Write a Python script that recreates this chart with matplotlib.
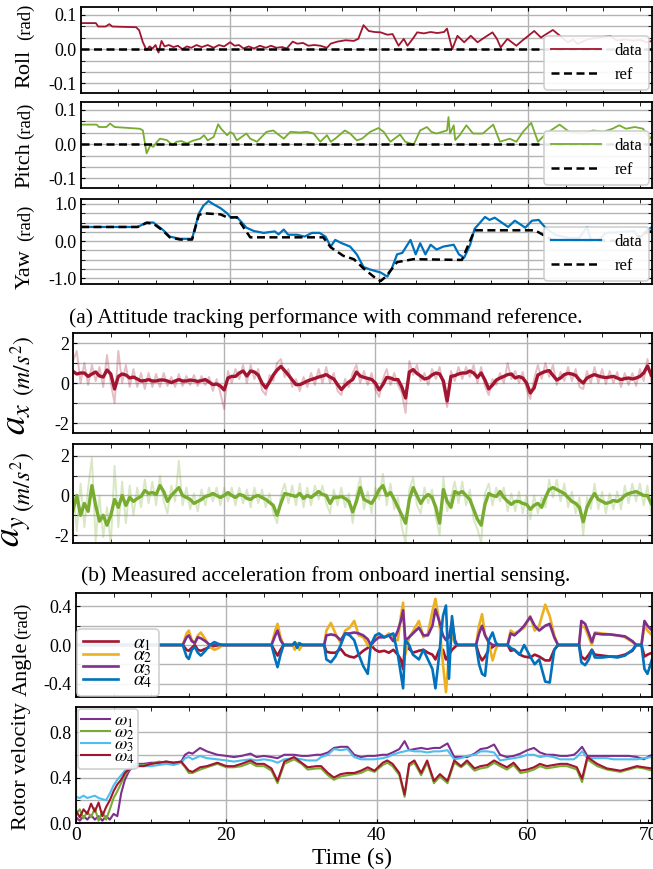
import numpy as np
import matplotlib
matplotlib.use("Agg")
import matplotlib.pyplot as plt
from matplotlib.ticker import MultipleLocator, FixedLocator

plt.rcParams['font.family'] = ['Liberation Serif', 'DejaVu Serif']
plt.rcParams['mathtext.fontset'] = 'stix'

# colours (matlab-ish)
RED = '#A2142F'
GREEN = '#77AC30'
BLUE = '#0072BD'
ORANGE = '#EDB120'
PURPLE = '#7E2F8E'
CYAN = '#4DBEEE'

XMAX = 76.6

# ---------------- attitude ----------------
T_ROLL = [0, 2.0, 2.3, 3.3, 3.8, 4.2, 7.4, 7.8, 8.3, 8.8,
          9.2, 9.6, 10.0, 10.4, 10.8, 11.2, 11.8, 12.4, 13.0, 13.6,
          14.2, 14.8, 15.5, 16.2, 17.0, 17.8, 18.5, 19.2, 20.0, 20.6,
          21.2, 21.8, 22.5, 23.2, 24.0, 24.8, 25.5, 26.2, 27.0, 27.6,
          28.4, 29.0, 29.8, 30.5, 31.3, 32.1, 33.0, 33.5, 34.4, 35.5,
          36.6, 37.2, 37.9, 38.6, 39.4, 40.2, 41.1, 41.8, 42.6, 43.3,
          43.8, 44.5, 45.1, 46.0, 46.9, 47.8, 48.7, 49.1, 49.8, 50.5,
          51.4, 52.3, 53.2, 54.2, 55.2, 55.8, 56.3, 57.2, 58.4, 59.2,
          59.9, 60.8, 61.7, 62.5, 63.3, 64.2, 65.3, 66.0, 66.6, 68.0,
          69.5, 71.0, 71.9, 73.0, 74.1, 75.0, 75.9, 76.6]
ROLL = [0.076, 0.076, 0.066, 0.066, 0.073, 0.066, 0.064, 0.055, 0.02, -0.003,
        0.008, 0.002, 0.012, -0.01, 0.024, 0.008, 0.012, 0.006, 0.01, 0.0,
        0.008, 0.004, 0.012, 0.006, 0.012, 0.004, 0.012, 0.008, 0.02, 0.01,
        0.012, 0.002, 0.008, 0.002, 0.01, 0.004, 0.01, 0.004, 0.006, 0.002,
        0.022, 0.016, 0.018, 0.01, 0.012, 0.01, 0.004, 0.016, 0.022, 0.026,
        0.024, 0.03, 0.07, 0.053, 0.05, 0.049, 0.042, 0.044, 0.01, 0.03,
        0.01, 0.03, 0.049, 0.046, 0.05, 0.047, 0.05, 0.06, 0.0, 0.039,
        0.02, 0.039, 0.02, 0.035, 0.049, 0.03, 0.005, 0.03, 0.01, 0.025,
        0.037, 0.053, 0.034, 0.045, 0.056, 0.04, 0.02, 0.028, 0.015, 0.029,
        0.034, 0.039, 0.025, 0.028, 0.025, 0.027, 0.02, 0.024]

T_PITCH = [0, 2.1, 2.4, 3.4, 3.9, 4.5, 7.9, 8.3, 8.8, 9.3,
           9.7, 10.2, 10.6, 11.5, 12.3, 12.8, 13.5, 14.2, 15.0, 16.0,
           16.5, 17.0, 17.8, 18.4, 18.8, 19.6, 20.0, 20.4, 20.9, 22.2,
           22.7, 23.6, 24.9, 25.8, 26.3, 27.2, 28.1, 29.4, 30.3, 31.2,
           32.1, 33.0, 33.5, 34.1, 35.4, 36.1, 37.0, 37.7, 38.8, 39.9,
           40.6, 41.5, 42.8, 43.5, 44.2, 44.6, 45.5, 46.4, 47.0, 47.7,
           49.1, 49.3, 49.5, 50.0, 50.2, 50.8, 51.7, 52.6, 53.9, 55.3,
           56.2, 57.5, 58.4, 59.3, 60.4, 61.3, 62.4, 64.2, 65.5, 67.3,
           68.7, 70.0, 71.3, 72.2, 73.1, 74.3, 75.4, 76.3, 76.6]
PITCH = [0.057, 0.057, 0.05, 0.05, 0.06, 0.05, 0.045, 0.04, -0.027, -0.003,
         -0.008, 0.007, 0.016, 0.012, -0.003, 0.007, 0.009, 0.002, 0.01, 0.016,
         0.026, 0.011, 0.021, 0.058, 0.045, 0.026, 0.035, 0.031, 0.011, 0.031,
         0.016, 0.007, 0.036, 0.04, 0.031, 0.016, 0.036, 0.034, 0.036, 0.031,
         0.007, 0.026, 0.007, 0.016, 0.04, 0.031, 0.011, 0.016, 0.036, 0.047,
         0.036, 0.007, 0.028, 0.007, 0.002, -0.003, 0.04, 0.05, 0.036, 0.031,
         0.04, 0.079, 0.031, 0.055, 0.012, 0.026, 0.055, 0.031, 0.031, 0.057,
         0.007, 0.016, 0.007, 0.036, 0.062, 0.007, 0.031, 0.057, 0.036, 0.031,
         0.04, 0.036, 0.045, 0.055, 0.045, 0.05, 0.045, 0.016, 0.024]

REF_ZERO = 0.0

T_YAW = [0, 7.6, 8.8, 9.7, 11.0, 11.9, 13.3, 14.9, 15.8, 16.4,
         17.1, 17.8, 18.7, 19.6, 20.1, 20.9, 22.2, 23.2, 24.5, 26.0,
         26.5, 27.2, 27.8, 29.0, 30.0, 31.0, 32.0, 32.8, 33.5, 34.1,
         35.0, 36.1, 37.0, 37.9, 38.8, 40.2, 41.1, 41.7, 42.4, 43.1,
         44.2, 44.9, 45.5, 46.2, 46.9, 47.7, 48.6, 50.0, 50.7, 51.4,
         52.2, 52.8, 54.2, 54.8, 55.5, 57.3, 58.2, 59.6, 60.5, 61.4,
         62.3, 63.6, 65.4, 66.8, 67.9, 68.4, 69.5, 70.4, 72.6, 74.2,
         74.9, 75.8, 76.6]
YAW = [0.38, 0.38, 0.50, 0.50, 0.30, 0.12, 0.06, 0.06, 0.74, 0.95,
       1.08, 0.99, 0.89, 0.75, 0.63, 0.65, 0.36, 0.27, 0.22, 0.26,
       0.18, 0.31, 0.17, 0.17, 0.12, 0.22, 0.22, 0.12, -0.15, 0.03,
       -0.06, -0.15, -0.36, -0.70, -0.77, -0.85, -0.96, -0.74, -0.36, -0.32,
       0.03, -0.36, -0.06, -0.36, -0.10, -0.23, -0.15, -0.10, -0.36, -0.45,
       -0.10, 0.33, 0.65, 0.57, 0.63, 0.38, 0.55, 0.36, 0.55, 0.57,
       0.36, 0.17, 0.08, 0.08, 0.38, 0.03, 0.03, 0.22, 0.24, 0.27,
       0.06, 0.27, 0.38]

T_YAW_REF = [0, 7.6, 8.8, 9.7, 11.0, 11.9, 13.3, 14.9, 15.8, 16.4,
             18.7, 19.6, 20.9, 22.7, 32.5, 33.5, 35.2, 36.6, 37.9, 39.5,
             40.2, 40.9, 42.4, 44.6, 51.1, 52.8, 60.9, 63.2, 74.4, 75.0,
             76.6]
YAW_REF = [0.38, 0.38, 0.49, 0.47, 0.28, 0.10, 0.04, 0.04, 0.70, 0.75,
           0.72, 0.64, 0.64, 0.10, 0.10, -0.17, -0.40, -0.49, -0.74, -1.0,
           -1.08, -0.96, -0.57, -0.49, -0.51, 0.29, 0.29, 0.03, 0.0, 0.17,
           0.27]

# ---------------- acceleration (0.5 s samples) ----------------
T_ACC = np.arange(0, 77, 0.5)
ACC_X = [0.58, 0.45, 0.50, 0.50, 0.33, 0.45, 0.55, 0.35, 0.30, 0.65,
         0.45, -0.30, 0.33, 0.45, 0.40, 0.25, 0.30, 0.20, 0.10, 0.12,
         0.17, 0.10, 0.10, 0.15, 0.15, 0.10, 0.02, 0.10, 0.17, 0.10,
         0.10, 0.15, 0.12, 0.08, 0.12, 0.17, 0.05, -0.08, -0.05, -0.15,
         -0.35, 0.25, 0.33, 0.33, 0.50, 0.60, 0.35, 0.60, 0.55, 0.40,
         0.00, -0.25, 0.05, 0.40, 0.65, 0.83, 0.62, 0.40, 0.15, -0.08,
         -0.08, 0.00, 0.10, 0.17, 0.23, 0.30, 0.35, 0.42, 0.30, 0.20,
         -0.08, -0.33, -0.12, 0.05, 0.17, 0.55, 0.35, 0.28, 0.23, 0.18,
         0.00, -0.35, -0.08, 0.28, 0.25, 0.17, 0.17, -0.20, -0.75, 0.55,
         0.67, 0.48, 0.35, 0.20, 0.25, 0.40, 0.50, 0.45, 0.10, -0.90,
         0.33, 0.37, 0.45, 0.50, 0.50, 0.60, 0.50, 0.28, 0.50, 0.15,
         -0.30, -0.10, 0.15, 0.25, 0.33, 0.42, 0.45, 0.25, 0.32, 0.25,
         0.00, -0.50, -0.25, 0.40, 0.50, 0.58, 0.62, 0.38, 0.15, 0.25,
         0.42, 0.48, 0.45, 0.38, 0.15, 0.00, 0.25, 0.35, 0.42, 0.35,
         0.30, 0.27, 0.30, 0.33, 0.25, 0.17, 0.22, 0.25, 0.20, 0.25,
         0.33, 0.50, 0.85, 0.40]
ACC_X_RAW = [1.10, 1.60, 0.00, 1.00, -0.10, 0.90, 0.10, 0.80, -0.20, 1.40,
             0.00, -1.00, 1.60, 0.00, 0.90, -0.20, 0.70, -0.20, 0.50, -0.30,
             0.50, -0.20, 0.45, -0.20, 0.50, -0.15, 0.30, -0.20, 0.45, -0.15,
             0.35, -0.10, 0.40, -0.15, 0.35, -0.10, 0.30, -0.40, 0.20, -0.50,
             -1.30, 0.60, 0.00, 0.70, 0.20, 0.90, 0.00, 0.90, 0.20, 0.70,
             -0.35, -0.60, 0.40, 0.10, 1.00, 1.20, 0.30, 0.70, -0.20, 0.20,
             -0.40, 0.30, -0.20, 0.50, -0.10, 0.70, 0.00, 0.80, 0.00, 0.50,
             -0.40, -0.60, 0.20, -0.20, 0.50, 0.90, 0.00, 0.60, -0.10, 0.50,
             -0.30, -0.70, 0.20, 0.70, -0.10, 0.50, -0.10, -0.50, -1.50, 1.10,
             0.40, 0.90, 0.10, 0.50, -0.10, 0.70, 0.20, 0.80, -0.20, -1.20,
             0.60, 0.10, 0.80, 0.20, 0.80, 0.30, 0.90, 0.00, 0.80, -0.15,
             -0.60, 0.20, -0.10, 0.50, 0.00, 1.00, 0.20, 0.60, 0.00, 0.55,
             -0.30, -0.80, 0.20, 0.90, 0.20, 1.00, 0.30, 0.90, -0.10, 0.55,
             0.10, 0.80, 0.10, 0.70, -0.20, -0.30, 0.60, 0.00, 0.80, 0.00,
             0.70, -0.05, 0.60, 0.00, 0.55, -0.20, 0.50, -0.10, 0.50, -0.15,
             0.70, 0.10, 1.20, 0.10]
ACC_Y = [-0.75, 0.00, -1.00, -0.40, -0.80, 0.50, -0.50, -1.30, -1.00, -1.50,
         -1.00, -0.20, -0.60, 0.00, -0.50, -0.10, -0.30, -0.15, -0.05, 0.25,
         0.10, 0.15, 0.05, 0.50, 0.20, -0.30, 0.00, 0.20, 0.40, 0.00,
         -0.10, -0.20, -0.40, -0.30, -0.20, -0.05, 0.00, 0.10, 0.00, -0.10,
         0.00, 0.15, 0.00, -0.10, 0.05, 0.00, -0.15, -0.20, -0.05, 0.00,
         -0.10, -0.20, -0.35, -0.50, -1.00, -0.40, 0.10, 0.05, 0.00, -0.05,
         0.10, -0.15, 0.00, -0.10, 0.05, 0.20, 0.05, 0.00, -0.40, -0.10,
         -0.10, -0.05, -0.15, -0.30, -0.83, -0.30, 0.40, -0.20, -0.30, -0.40,
         -0.10, 0.30, 0.50, 0.00, 0.15, -0.20, -0.60, -1.00, -1.40, -0.20,
         0.40, 0.00, -0.40, -0.10, 0.05, -0.10, -0.60, -1.40, 0.30, -0.30,
         -0.60, 0.20, 0.10, 0.20, 0.00, -0.20, -0.70, -1.20, -1.50, -0.45,
         0.10, 0.00, -0.05, 0.20, -0.10, -0.30, -0.45, -0.30, -0.30, -0.40,
         -0.45, -0.70, -0.50, -0.40, -0.60, -0.10, 0.30, 0.40, 0.30, 0.20,
         0.10, -0.10, -0.30, -0.40, -0.60, -1.33, -0.60, -0.20, 0.10, -0.20,
         -0.30, -0.40, -0.35, -0.25, -0.30, -0.20, 0.00, 0.10, 0.15, 0.20,
         0.10, 0.00, 0.00, -0.40]
ACC_Y_RAW = [0.20, -1.80, 0.60, -1.60, 0.40, 1.90, -2.30, 0.00, -2.10, -0.60,
             -2.50, 1.50, -1.60, 0.70, -1.40, 0.50, -1.00, 0.40, -0.60, 0.80,
             -0.40, 0.70, -0.50, 1.00, -0.30, -0.90, 0.50, -0.30, 1.75, -0.50,
             0.40, -0.70, 0.10, -0.80, 0.30, -0.50, 0.40, -0.30, 0.40, -0.50,
             0.40, -0.30, 0.40, -0.50, 0.40, -0.40, 0.30, -0.60, 0.40, -0.40,
             0.30, -0.60, 0.10, -0.90, -1.40, 0.00, 0.60, -0.40, 0.50, -0.50,
             0.60, -0.60, 0.40, -0.50, 0.50, -0.20, 0.50, -0.40, -0.90, 0.30,
             -0.50, 0.40, -0.60, 0.10, -1.40, 0.10, 0.90, -0.70, 0.20, -0.90,
             0.40, -0.20, 1.10, -0.50, 0.60, -0.70, -0.10, -1.60, -2.40, 0.30,
             0.90, -0.50, -0.90, 0.40, -0.40, 0.30, -1.10, -2.00, 0.90, -0.80,
             -0.10, 0.70, -0.40, 0.70, -0.50, 0.30, -1.20, -1.70, -2.40, 0.10,
             0.60, -0.50, 0.40, -0.30, 0.40, -0.80, 0.10, -0.80, 0.20, -0.90,
             0.00, -1.20, 0.00, -0.90, -0.10, -0.60, 0.80, -0.10, 0.80, -0.30,
             0.60, -0.60, 0.20, -0.90, -0.10, -2.00, -0.10, -0.70, 0.60, -0.70,
             0.20, -0.90, 0.10, -0.70, 0.20, -0.70, 0.50, -0.40, 0.60, -0.30,
             0.60, -0.50, 0.50, -0.90]

# ---------------- rotor angles ----------------
T_ANG = [0, 14.2, 14.7, 15.0, 15.4, 15.8, 16.2, 16.6, 17.2, 17.8,
         18.4, 19.0, 19.5, 26.0, 26.5, 26.8, 27.2, 27.6, 28.8, 29.1,
         29.4, 29.7, 30.1, 33.0, 33.3, 33.9, 34.5, 35.2, 35.8, 36.4,
         37.0, 37.6, 38.2, 38.8, 39.2, 39.8, 40.3, 41.0, 41.6, 42.2,
         42.8, 43.2, 43.5, 43.8, 44.3, 44.8, 45.6, 46.2, 46.8, 47.4,
         47.8, 48.3, 48.8, 49.2, 49.6, 50.0, 50.4, 50.7, 53.2, 53.6,
         54.0, 54.4, 54.9, 55.4, 55.8, 56.1, 57.4, 57.8, 58.3, 59.0,
         59.6, 60.4, 61.0, 61.6, 62.4, 63.0, 63.6, 64.1, 66.9, 67.2,
         67.7, 68.2, 68.6, 69.0, 70.0, 71.0, 72.0, 73.0, 74.0, 74.5,
         75.2, 75.6, 76.0, 76.6]
ALPHA1 = [0, 0, -0.05, -0.06, -0.03, 0.0, -0.05, -0.06, -0.04, -0.02,
          -0.01, 0.0, 0, 0, -0.07, -0.11, -0.05, 0, 0, 0.02,
          -0.01, 0.01, 0, 0, -0.07, -0.08, -0.08, -0.04, -0.10, -0.12,
          -0.13, -0.10, -0.06, -0.03, 0.0, -0.05, -0.07, -0.06, -0.08, -0.05,
          -0.10, -0.15, -0.25, 0.05, -0.04, -0.08, -0.06, -0.05, -0.08, -0.10,
          -0.15, -0.05, -0.05, -0.15, -0.10, -0.05, -0.02, 0, 0, -0.10,
          -0.16, -0.12, -0.05, -0.02, 0, 0, 0, -0.06, -0.05, -0.10,
          -0.12, -0.13, -0.10, -0.12, -0.16, -0.16, -0.05, 0, 0, -0.12,
          -0.15, -0.10, -0.05, -0.10, -0.11, -0.12, -0.12, -0.10, -0.06, 0.0,
          0, -0.12, -0.10, -0.08]
ALPHA2 = [0, 0, 0.12, 0.15, 0.05, 0.02, 0.10, 0.13, 0.06, -0.02,
          -0.05, -0.03, 0, 0, 0.15, 0.22, 0.08, 0, 0, -0.05,
          0.02, -0.05, 0, 0, 0.15, 0.23, 0.12, 0.02, 0.15, 0.18,
          0.25, 0.10, 0.08, 0.0, -0.02, 0.08, 0.10, 0.08, 0.12, 0.06,
          0.05, 0.30, 0.44, -0.10, 0.08, 0.14, 0.25, 0.08, 0.12, 0.35,
          0.48, 0.25, -0.20, -0.49, -0.10, 0.10, 0.03, 0, 0, 0.20,
          0.32, 0.10, 0.02, -0.16, -0.05, 0, 0, 0.15, 0.12, 0.15,
          0.18, 0.30, 0.15, 0.20, 0.42, 0.30, 0.10, 0, 0, 0.20,
          0.18, 0.08, 0.0, 0.13, 0.12, 0.11, 0.10, 0.08, 0.03, 0.0,
          0, 0.20, 0.15, 0.10]
ALPHA3 = [0, 0, 0.08, 0.10, 0.04, 0.02, 0.08, 0.07, 0.04, 0.0,
          0.0, 0, 0, 0, 0.10, 0.15, 0.05, 0, 0, 0.02,
          -0.02, 0.01, 0, 0, 0.10, 0.11, 0.10, 0.05, 0.12, 0.12,
          0.13, 0.12, 0.10, 0.06, 0.0, 0.05, 0.08, 0.08, 0.10, 0.04,
          0.15, 0.25, 0.36, 0.05, 0.08, 0.12, 0.18, 0.10, 0.10, 0.20,
          0.37, 0.25, 0.10, 0.05, 0.08, 0.25, 0.05, 0, 0, 0.12,
          0.20, 0.10, 0.03, 0.0, 0, 0, 0, 0.12, 0.10, 0.15,
          0.20, 0.29, 0.20, 0.15, 0.20, 0.22, 0.08, 0, 0, 0.25,
          0.22, 0.12, 0.03, 0.12, 0.11, 0.11, 0.10, 0.09, 0.04, 0.0,
          0, 0.25, 0.20, 0.15]
ALPHA4 = [0, 0, -0.12, -0.145, -0.05, -0.02, -0.08, -0.11, -0.06, 0.0,
          0.03, 0.01, 0, 0, -0.15, -0.23, -0.10, 0, 0, 0.03,
          -0.03, 0.02, 0, 0, -0.15, -0.18, -0.12, 0.0, 0.12, 0.10,
          0.05, -0.10, -0.22, -0.30, 0.0, 0.10, 0.12, 0.08, 0.10, 0.12,
          -0.10, -0.30, -0.45, 0.05, 0.0, -0.10, -0.15, -0.05, -0.15, -0.25,
          -0.45, -0.10, 0.30, 0.41, -0.35, 0.30, 0.02, 0, 0, -0.20,
          -0.30, -0.32, 0.05, 0.13, 0.03, 0, 0, -0.03, -0.05, -0.10,
          0.0, -0.12, -0.20, -0.15, -0.38, -0.39, -0.05, 0, 0, -0.18,
          -0.21, -0.15, -0.05, -0.13, -0.13, -0.12, -0.13, -0.11, -0.05, 0.0,
          0, -0.25, -0.30, -0.15]

# ---------------- rotor velocity ----------------
T_ROT = [0, 0.5, 1, 1.5, 2, 2.5, 3, 3.5, 4, 4.5,
         5, 5.5, 6, 6.5, 7, 7.5, 8, 9, 10, 11,
         12, 13, 14, 14.5, 15, 15.5, 16.5, 17.4, 18.8, 20,
         21, 22, 23.2, 24, 25, 26, 26.8, 27.7, 29, 30,
         30.8, 32, 32.6, 33.5, 34.3, 35.2, 36.1, 37, 37.9, 38.8,
         39.7, 40.8, 41.4, 42.1, 43, 43.7, 44.3, 45, 45.9, 46.7,
         47.6, 48.4, 49.4, 50.3, 51.2, 52, 53, 53.8, 54.7, 55.6,
         56.4, 57.3, 58.2, 59.1, 60, 60.9, 61.7, 62.6, 63.5, 64.4,
         65.3, 66.2, 66.6, 67.3, 68, 69.3, 70.6, 71.5, 72.4, 73.5,
         74.6, 75.5, 76.6]
OMEGA1 = [0.05, 0.02, 0.06, 0.03, 0.07, 0.03, 0.06, 0.02, 0.06, 0.03,
          0.08, 0.06, 0.26, 0.38, 0.45, 0.50, 0.52, 0.52, 0.53, 0.53,
          0.54, 0.53, 0.54, 0.60, 0.62, 0.61, 0.66, 0.63, 0.60, 0.59,
          0.58, 0.59, 0.61, 0.58, 0.59, 0.58, 0.57, 0.60, 0.60, 0.59,
          0.59, 0.60, 0.60, 0.62, 0.66, 0.67, 0.67, 0.60, 0.58, 0.59,
          0.59, 0.60, 0.60, 0.62, 0.65, 0.72, 0.64, 0.65, 0.66, 0.65,
          0.66, 0.66, 0.70, 0.58, 0.58, 0.58, 0.61, 0.65, 0.66, 0.69,
          0.60, 0.58, 0.59, 0.61, 0.64, 0.66, 0.62, 0.60, 0.60, 0.59,
          0.59, 0.60, 0.62, 0.67, 0.59, 0.59, 0.59, 0.59, 0.59, 0.59,
          0.58, 0.56, 0.60]
OMEGA2 = [0.08, 0.12, 0.04, 0.10, 0.05, 0.13, 0.02, 0.10, 0.03, 0.12,
          0.22, 0.28, 0.35, 0.42, 0.47, 0.49, 0.50, 0.51, 0.52, 0.54,
          0.53, 0.52, 0.53, 0.49, 0.44, 0.44, 0.47, 0.49, 0.52, 0.49,
          0.49, 0.50, 0.53, 0.50, 0.50, 0.46, 0.35, 0.52, 0.56, 0.52,
          0.47, 0.48, 0.48, 0.42, 0.38, 0.41, 0.42, 0.43, 0.44, 0.47,
          0.45, 0.51, 0.53, 0.50, 0.42, 0.23, 0.50, 0.53, 0.42, 0.53,
          0.35, 0.41, 0.35, 0.53, 0.49, 0.53, 0.46, 0.48, 0.49, 0.53,
          0.50, 0.47, 0.51, 0.44, 0.45, 0.47, 0.50, 0.48, 0.49, 0.50,
          0.50, 0.48, 0.47, 0.36, 0.56, 0.50, 0.47, 0.46, 0.45, 0.47,
          0.49, 0.48, 0.46]
OMEGA3 = [0.23, 0.22, 0.24, 0.22, 0.23, 0.24, 0.22, 0.21, 0.20, 0.26,
          0.33, 0.38, 0.42, 0.46, 0.48, 0.52, 0.51, 0.50, 0.50, 0.51,
          0.52, 0.51, 0.53, 0.57, 0.58, 0.56, 0.59, 0.57, 0.56, 0.55,
          0.54, 0.55, 0.56, 0.55, 0.56, 0.55, 0.53, 0.56, 0.57, 0.56,
          0.55, 0.55, 0.58, 0.60, 0.65, 0.64, 0.65, 0.58, 0.56, 0.56,
          0.56, 0.57, 0.58, 0.60, 0.62, 0.63, 0.64, 0.63, 0.63, 0.62,
          0.63, 0.63, 0.64, 0.56, 0.57, 0.59, 0.60, 0.63, 0.63, 0.62,
          0.55, 0.56, 0.57, 0.58, 0.60, 0.60, 0.58, 0.59, 0.58, 0.56,
          0.56, 0.56, 0.58, 0.63, 0.57, 0.57, 0.57, 0.56, 0.56, 0.56,
          0.56, 0.57, 0.58]
OMEGA4 = [0.11, 0.05, 0.12, 0.08, 0.17, 0.10, 0.18, 0.06, 0.14, 0.20,
          0.28, 0.34, 0.38, 0.44, 0.47, 0.48, 0.50, 0.50, 0.52, 0.53,
          0.54, 0.53, 0.54, 0.50, 0.46, 0.45, 0.49, 0.50, 0.53, 0.50,
          0.50, 0.52, 0.55, 0.52, 0.52, 0.48, 0.37, 0.54, 0.58, 0.53,
          0.49, 0.50, 0.50, 0.44, 0.40, 0.43, 0.44, 0.44, 0.46, 0.49,
          0.46, 0.53, 0.55, 0.52, 0.44, 0.25, 0.52, 0.55, 0.44, 0.55,
          0.37, 0.43, 0.37, 0.55, 0.50, 0.55, 0.48, 0.50, 0.51, 0.55,
          0.52, 0.49, 0.53, 0.46, 0.47, 0.49, 0.52, 0.50, 0.51, 0.52,
          0.52, 0.50, 0.49, 0.39, 0.58, 0.52, 0.48, 0.47, 0.46, 0.48,
          0.50, 0.49, 0.48]

W, H = 653, 869


def box(l, t, r, b):
    # pixel box -> figure fraction
    return [l / W, 1 - b / H, (r - l) / W, (b - t) / H]


def style(ax, ylim, major, labels, minor):
    ax.set_xlim(0, XMAX)
    ax.set_ylim(*ylim)
    ax.set_xticks([20, 40, 60])
    ax.xaxis.set_minor_locator(MultipleLocator(5))
    ax.set_yticks(major)
    ax.set_yticklabels(labels)
    ax.yaxis.set_minor_locator(FixedLocator(minor))
    ax.grid(True, which='major', axis='x', color='#b3b3b3', lw=1.0)
    ax.grid(True, which='both', axis='y', color='#b3b3b3', lw=1.0)
    ax.tick_params(which='both', direction='in', top=True, right=True,
                   labelsize=13, length=3, pad=3)
    ax.tick_params(axis='x', labelbottom=False)
    for s in ax.spines.values():
        s.set_linewidth(1.3)
    ax.set_axisbelow(True)


def legend(ax, **kw):
    lg = ax.legend(fontsize=12, framealpha=0.9, edgecolor='#cccccc',
                   fancybox=True, **kw)
    lg.get_frame().set_linewidth(1.2)
    return lg


def ylab(x, y, s, size):
    fig.text(x / W, 1 - y / H, s, rotation=90, ha='center', va='center',
             fontsize=size)


fig = plt.figure(figsize=(W / 100, H / 100), dpi=100)

ax_r = fig.add_axes(box(81, 7, 652, 93))
ax_p = fig.add_axes(box(81, 102, 652, 188))
ax_y = fig.add_axes(box(81, 199, 652, 284))
ax_ax = fig.add_axes(box(73, 333, 652, 433))
ax_ay = fig.add_axes(box(73, 444, 652, 543))
ax_an = fig.add_axes(box(76, 593, 652, 697))
ax_w = fig.add_axes(box(76, 707, 652, 823))

third = 0.1 / 3
att_minor = [-2 * third, -third, third, 2 * third]
dash = (0, (3.2, 1.8))

style(ax_r, (-0.128, 0.123), [-0.1, 0, 0.1], ['-0.1', '0.0', '0.1'], att_minor)
ax_r.plot(T_ROLL, ROLL, color=RED, lw=1.3, label='data')
ax_r.axhline(REF_ZERO, color='k', lw=1.8, ls=dash, label='ref')
legend(ax_r, loc='lower right', borderaxespad=0.2, handlelength=3.0)

style(ax_p, (-0.128, 0.123), [-0.1, 0, 0.1], ['-0.1', '0.0', '0.1'], att_minor)
ax_p.plot(T_PITCH, PITCH, color=GREEN, lw=1.3, label='data')
ax_p.axhline(REF_ZERO, color='k', lw=1.8, ls=dash, label='ref')
legend(ax_p, loc='lower right', borderaxespad=0.2, handlelength=3.0)

style(ax_y, (-1.16, 1.135), [-1, 0, 1], ['-1.0', '0.0', '1.0'],
      [-0.75, -0.5, -0.25, 0.25, 0.5, 0.75])
ax_y.plot(T_YAW, YAW, color=BLUE, lw=1.6, label='data')
ax_y.plot(T_YAW_REF, YAW_REF, color='k', lw=1.8, ls=dash, label='ref')
legend(ax_y, loc='lower right', borderaxespad=0.2, handlelength=3.0)

style(ax_ax, (-2.5, 2.5), [-2, 0, 2], ['-2', '0', '2'], [-1, 1])
ax_ax.plot(T_ACC, ACC_X_RAW, color=RED, lw=1.4, alpha=0.28)
ax_ax.plot(T_ACC, ACC_X, color=RED, lw=2.4)

style(ax_ay, (-2.4, 2.6), [-2, 0, 2], ['-2', '0', '2'], [-1, 1])
ax_ay.plot(T_ACC, ACC_Y_RAW, color=GREEN, lw=1.4, alpha=0.28)
ax_ay.plot(T_ACC, ACC_Y, color=GREEN, lw=2.4)

style(ax_an, (-0.54, 0.54), [-0.4, 0, 0.4], ['-0.4', '0.0', '0.4'], [-0.2, 0.2])
ax_an.plot(T_ANG, ALPHA1, color=RED, lw=1.9, label=r'$\alpha_1$')
ax_an.plot(T_ANG, ALPHA2, color=ORANGE, lw=1.9, label=r'$\alpha_2$')
ax_an.plot(T_ANG, ALPHA3, color=PURPLE, lw=1.9, label=r'$\alpha_3$')
ax_an.plot(T_ANG, ALPHA4, color=BLUE, lw=1.9, label=r'$\alpha_4$')
lg = ax_an.legend(loc='lower left', fontsize=14, framealpha=0.9,
                  edgecolor='#cccccc', borderaxespad=0.05, handlelength=1.8,
                  handletextpad=0.8, labelspacing=-0.3, borderpad=0.3)
lg.get_frame().set_linewidth(1.2)

style(ax_w, (0, 1.02), [0, 0.4, 0.8], ['0.0', '0.4', '0.8'], [0.2, 0.6])
ax_w.plot(T_ROT, OMEGA1, color=PURPLE, lw=1.5, label=r'$\omega_1$')
ax_w.plot(T_ROT, OMEGA2, color=GREEN, lw=1.5, label=r'$\omega_2$')
ax_w.plot(T_ROT, OMEGA3, color=CYAN, lw=1.5, label=r'$\omega_3$')
ax_w.plot(T_ROT, OMEGA4, color=RED, lw=1.5, label=r'$\omega_4$')
lg = ax_w.legend(loc='upper left', fontsize=13, framealpha=0.9,
                 edgecolor='#cccccc', borderaxespad=0.1, handlelength=1.6,
                 handletextpad=0.2, labelspacing=-0.3, borderpad=0.2)
lg.get_frame().set_linewidth(1.2)
ax_w.set_xticks([0, 20, 40, 60, 76.1])
ax_w.set_xticklabels(['0', '20', '40', '60', '70'])
ax_w.tick_params(axis='x', labelbottom=True, labelsize=14)
ax_w.get_xgridlines()[-1].set_visible(False)

# y labels
ylab(25, 69, 'Roll', 16)
ylab(25, 22, '(rad)', 13.5)
ylab(25, 165, 'Pitch', 16)
ylab(25, 121, '(rad)', 13.5)
ylab(25, 269, 'Yaw', 16)
ylab(25, 223, '(rad)', 13.5)
ylab(17, 419, r'$a_x$', 27)
ylab(23, 366, r'$(m/s^2)$', 17)
ylab(16, 531, r'$a_y$', 27)
ylab(23, 482, r'$(m/s^2)$', 17)
ylab(22, 669, 'Angle', 16)
ylab(22, 621, '(rad)', 13.5)
ylab(22, 766, 'Rotor velocity', 16)

fig.text(326 / W, 1 - 318 / H,
         '(a) Attitude tracking performance with command reference.',
         ha='center', va='center', fontsize=15.5)
fig.text(326 / W, 1 - 576 / H,
         '(b) Measured acceleration from onboard inertial sensing.',
         ha='center', va='center', fontsize=15.5)
fig.text(352 / W, 1 - 858 / H, 'Time (s)', ha='center', va='center',
         fontsize=17)

fig.savefig('out.png', dpi=100)
